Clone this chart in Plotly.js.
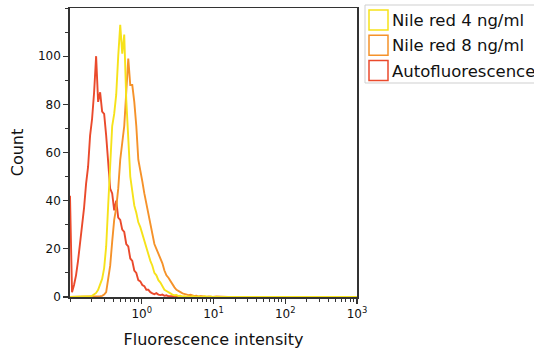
<!DOCTYPE html>
<html>
<head>
<meta charset="utf-8">
<script src="https://cdn.plot.ly/plotly-3.0.1.min.js"></script>
<style>html,body{margin:0;padding:0;background:#fff;}#chart{width:534px;height:356px;}</style>
</head>
<body>
<div id="chart"></div>
<script>
// Fluorescence intensity bins (log-spaced)
var intensity = [0.1,0.1067,0.1138,0.1213,0.1294,0.138,0.1472,0.157,0.1675,0.1786,
  0.1905,0.2032,0.2168,0.2312,0.2466,0.263,0.2805,0.2992,0.3192,0.3404,
  0.3631,0.3873,0.413,0.4406,0.4699,0.5012,0.5346,0.5702,0.6081,0.6486,
  0.6918,0.7379,0.787,0.8395,0.8954,0.955,1.0186,1.0864,1.1588,1.2359,
  1.3183,1.406,1.4997,1.5996,1.7061,1.8197,1.9409,2.0701,2.208,2.355,
  2.5119,2.6792,2.8576,3.0479,3.2509,3.4674,3.6983,3.9446,4.2073,4.4875,
  4.7863,5.105,5.445,5.8076,6.1944,6.6069,7.0469,7.5162,8.0168,8.5507,
  9.1201,9.7275,11,13,16,20,30,60,150,400,1000];

var seriesNames = ["Nile red 4 ng/ml", "Nile red 8 ng/ml", "Autofluorescence"];
var seriesColors = ["#f6e21a", "#f5922a", "#ea4a2c"];

var countNile4 = [0,0,0,0,0,0,0,0,0,0,
  0.3,0.5,1,1.7,3,5,7.5,12,21,38,
  56,71,76,84,100,113,101,109,82,63,
  50,44,38,35,31,29,26,23,20,17.5,
  15,13,10,9,7,6,4.5,3,2.5,1.8,
  1.5,1,0.7,0.8,0.4,0.5,0.2,0.3,0,0.2,
  0,0.3,0,0,0.2,0,0,0.3,0,0,
  0.2,0,0,0,0,0,0,0,0,0,0];

var countNile8 = [0,0,0,0,0,0,0,0,0,0,
  0,0,0,0,0,0.3,0.5,1,2,7,
  13,23,32,37,45,57,64,71,85,99,
  88,88,81,71,57,53,48,43,39,35,
  30,26,22,20,18,16,14,11,9,8,
  6.5,5,4,3,2.3,2,1.5,1.2,1,0.8,
  0.9,0.6,0.4,0.5,0.2,0.4,0.2,0.3,0,0.2,
  0,0,0.2,0,0,0,0,0,0,0,0];

var countAuto = [42,2,5,9,15,22,31,37,47,54,
  67,74,85,100,81,85,77,76,67,56,
  45,43,36,40,33,32,28,27,22,21,
  16,15,11,10,7,6.5,5,4.5,3,3,
  2,1.5,1.2,1.6,1,0.8,1,0.5,0.7,0.3,
  0.4,0.2,0.3,0,0.2,0,0,0,0,0,
  0,0,0,0,0,0,0,0,0,0,
  0,0,0,0,0,0,0,0,0,0,0];

var xTickVals = [1, 10, 100, 1000];
var xTickText = ["10<sup>0</sup>", "10<sup>1</sup>", "10<sup>2</sup>", "10<sup>3</sup>"];
var yTickVals = [0, 20, 40, 60, 80, 100];

var seriesData = [countNile4, countNile8, countAuto];
var FONT = "DejaVu Sans, Verdana, sans-serif";

// draw order: autofluorescence, nile 8, nile 4 (yellow on top)
var order = [2, 1, 0];
var traces = order.map(function (i) {
  return {
    type: "scatter", mode: "lines",
    x: intensity, y: seriesData[i], name: seriesNames[i],
    line: {color: seriesColors[i], width: 1.9},
    showlegend: false, hoverinfo: "skip"
  };
});

// legend drawn as boxes and labels in paper coordinates
var L = 70, R = 357, T = 8, B = 297;
function px2x(p) { return (p - L) / (R - L); }
function py2y(p) { return (B - p) / (B - T); }
var shapes = [{
  type: "rect", xref: "paper", yref: "paper",
  x0: px2x(365), x1: px2x(545), y0: py2y(83), y1: py2y(5),
  line: {color: "#cfcfcf", width: 1}, fillcolor: "rgba(0,0,0,0)"
}];
var annotations = [];
seriesNames.forEach(function (name, i) {
  var top = 10 + 25.3 * i;
  shapes.push({
    type: "rect", xref: "paper", yref: "paper",
    x0: px2x(369), x1: px2x(388), y0: py2y(top + 20), y1: py2y(top),
    line: {color: seriesColors[i], width: 1.5}, fillcolor: "#ffffff"
  });
  annotations.push({
    xref: "paper", yref: "paper", x: px2x(390), y: py2y(top + 10.5),
    xanchor: "left", yanchor: "middle", showarrow: false,
    text: name, font: {family: FONT, size: 16.5, color: "#111"}
  });
});

var layout = {
  width: 534, height: 356,
  margin: {l: L, r: 534 - R, t: T, b: 356 - B, pad: 0},
  paper_bgcolor: "#ffffff", plot_bgcolor: "#ffffff",
  showlegend: false,
  font: {family: FONT, size: 12, color: "#111"},
  xaxis: {
    type: "log", range: [-1, 3],
    tickmode: "array", tickvals: xTickVals, ticktext: xTickText,
    ticks: "outside", ticklen: 5, tickwidth: 1.3, tickcolor: "#333",
    minor: {dtick: "D1", ticks: "outside", ticklen: 3, tickwidth: 1, tickcolor: "#333", showgrid: false},
    showgrid: false, zeroline: false,
    showline: true, linecolor: "#333", linewidth: 1.5, mirror: true,
    tickfont: {family: FONT, size: 12, color: "#111"},
    title: {text: "Fluorescence intensity", font: {family: FONT, size: 16, color: "#111"}, standoff: 14}
  },
  yaxis: {
    range: [0, 120],
    tickmode: "array", tickvals: yTickVals,
    ticks: "outside", ticklen: 5, tickwidth: 1.3, tickcolor: "#333",
    minor: {dtick: 10, ticks: "outside", ticklen: 3, tickwidth: 1, tickcolor: "#333", showgrid: false},
    showgrid: false, zeroline: false,
    showline: true, linecolor: "#333", linewidth: 1.8, mirror: true,
    tickfont: {family: FONT, size: 12, color: "#111"},
    title: {text: "Count", font: {family: FONT, size: 16, color: "#111"}, standoff: 10}
  },
  shapes: shapes,
  annotations: annotations
};

Plotly.newPlot("chart", traces, layout, {staticPlot: true, displayModeBar: false});
</script>
</body>
</html>
